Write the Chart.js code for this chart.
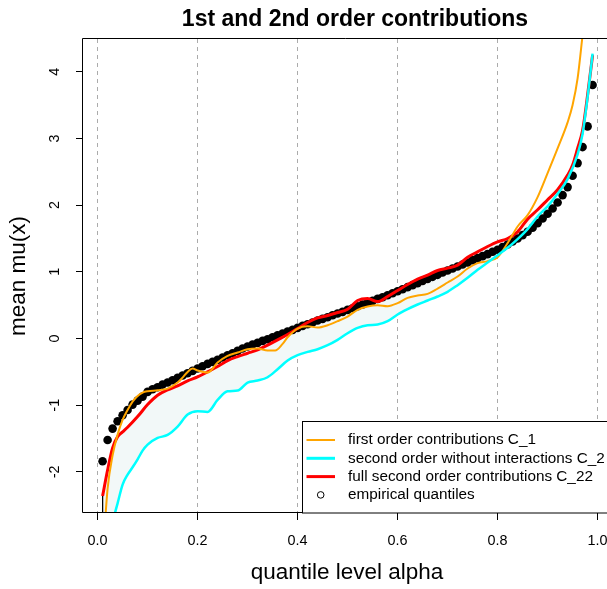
<!DOCTYPE html>
<html>
<head>
<meta charset="utf-8">
<script src="https://cdn.jsdelivr.net/npm/chart.js@4/dist/chart.umd.min.js"></script>
<style>
  body { margin: 0; background: #fff; }
  #wrap { width: 607px; height: 589px; overflow: hidden; }
</style>
</head>
<body>
<div id="wrap"><canvas id="contribChart" width="607" height="589"></canvas></div>
<script>
// empirical quantiles
const empAlpha = [0.01,0.02,0.03,0.04,0.05,0.06,0.07,0.08,0.09,0.10,0.11,0.12,0.13,0.14,0.15,0.16,0.17,0.18,0.19,0.20,
  0.21,0.22,0.23,0.24,0.25,0.26,0.27,0.28,0.29,0.30,0.31,0.32,0.33,0.34,0.35,0.36,0.37,0.38,0.39,0.40,
  0.41,0.42,0.43,0.44,0.45,0.46,0.47,0.48,0.49,0.50,0.51,0.52,0.53,0.54,0.55,0.56,0.57,0.58,0.59,0.60,
  0.61,0.62,0.63,0.64,0.65,0.66,0.67,0.68,0.69,0.70,0.71,0.72,0.73,0.74,0.75,0.76,0.77,0.78,0.79,0.80,
  0.81,0.82,0.83,0.84,0.85,0.86,0.87,0.88,0.89,0.90,0.91,0.92,0.93,0.94,0.95,0.96,0.97,0.98,0.99];
const empQuantile = [-1.84,-1.52,-1.35,-1.24,-1.15,-1.07,-0.99,-0.93,-0.87,-0.80,-0.76,-0.73,-0.69,-0.66,-0.625,-0.59,-0.555,-0.52,-0.485,-0.45,
  -0.415,-0.38,-0.35,-0.32,-0.285,-0.25,-0.22,-0.185,-0.15,-0.12,-0.09,-0.065,-0.035,-0.01,0.02,0.05,0.075,0.105,0.13,0.16,
  0.19,0.215,0.24,0.27,0.295,0.32,0.35,0.375,0.40,0.43,0.455,0.485,0.51,0.54,0.565,0.595,0.62,0.65,0.68,0.71,
  0.74,0.77,0.80,0.83,0.865,0.895,0.925,0.955,0.99,1.02,1.05,1.08,1.11,1.14,1.175,1.205,1.235,1.265,1.30,1.33,
  1.37,1.41,1.455,1.50,1.55,1.60,1.66,1.73,1.80,1.87,1.95,2.04,2.15,2.27,2.44,2.63,2.87,3.18,3.80];

// first order contributions C_1
const c1Alpha = [0.01,0.02,0.03,0.04,0.05,0.06,0.07,0.08,0.09,0.10,0.12,0.14,0.16,0.17,0.18,0.19,0.20,0.22,0.24,0.26,0.28,
  0.30,0.32,0.34,0.355,0.37,0.38,0.40,0.42,0.44,0.46,0.48,0.50,0.52,0.54,0.56,0.58,0.60,0.62,0.64,0.66,0.68,
  0.70,0.72,0.74,0.76,0.78,0.80,0.82,0.84,0.86,0.88,0.90,0.92,0.94,0.95,0.96,0.97];
const c1Mean = [-3.3,-2.25,-1.75,-1.44,-1.22,-1.07,-0.945,-0.86,-0.81,-0.79,-0.775,-0.75,-0.66,-0.585,-0.50,-0.45,-0.48,-0.51,-0.36,-0.26,-0.21,
  -0.16,-0.15,-0.18,-0.18,-0.08,0.02,0.15,0.185,0.165,0.20,0.26,0.33,0.43,0.48,0.50,0.485,0.53,0.61,0.645,0.67,0.75,
  0.84,0.93,1.05,1.13,1.16,1.22,1.43,1.68,1.85,2.12,2.48,2.85,3.24,3.50,3.90,4.55];

// second order without interactions C_2
const c2Alpha = [0.01,0.02,0.03,0.04,0.05,0.06,0.07,0.08,0.09,0.10,0.12,0.14,0.16,0.18,0.20,0.22,0.24,0.26,0.28,0.30,
  0.32,0.34,0.36,0.38,0.40,0.42,0.44,0.46,0.48,0.50,0.52,0.54,0.56,0.58,0.60,0.62,0.64,0.66,0.68,0.70,
  0.72,0.74,0.76,0.78,0.80,0.82,0.84,0.86,0.88,0.90,0.92,0.94,0.96,0.97,0.98,0.99];
const c2Mean = [-3.6,-3.1,-2.75,-2.47,-2.19,-2.04,-1.93,-1.81,-1.68,-1.59,-1.49,-1.445,-1.32,-1.14,-1.09,-1.10,-0.92,-0.79,-0.78,-0.66,
  -0.63,-0.58,-0.46,-0.33,-0.25,-0.20,-0.16,-0.10,-0.02,0.08,0.16,0.20,0.21,0.26,0.36,0.44,0.51,0.57,0.63,0.70,
  0.80,0.91,1.03,1.14,1.25,1.36,1.49,1.64,1.83,1.98,2.17,2.39,2.76,3.07,3.62,4.27];

// full second order contributions C_22
const c22Alpha = [0.01,0.02,0.03,0.04,0.05,0.06,0.08,0.10,0.12,0.14,0.16,0.18,0.20,0.22,0.24,0.26,0.28,0.30,0.32,0.34,
  0.36,0.38,0.40,0.42,0.44,0.46,0.48,0.50,0.52,0.54,0.56,0.58,0.60,0.62,0.64,0.66,0.68,0.70,0.72,0.74,
  0.76,0.78,0.80,0.82,0.84,0.86,0.88,0.90,0.92,0.94,0.95,0.96,0.97,0.98,0.99];
const c22Mean = [-2.36,-1.97,-1.64,-1.47,-1.40,-1.33,-1.17,-0.99,-0.85,-0.77,-0.71,-0.635,-0.575,-0.50,-0.42,-0.33,-0.27,-0.22,-0.17,-0.10,
  -0.02,0.06,0.15,0.24,0.31,0.345,0.39,0.44,0.57,0.60,0.555,0.63,0.72,0.81,0.89,0.95,1.02,1.055,1.10,1.22,
  1.30,1.38,1.45,1.50,1.60,1.79,1.93,2.08,2.23,2.45,2.60,2.85,3.12,3.65,4.25];

const seriesNames = ['first order contributions C_1', 'second order without interactions C_2',
  'full second order contributions C_22', 'empirical quantiles'];
const xTicks = [0, 0.2, 0.4, 0.6, 0.8, 1.0];
const yTicks = [-2, -1, 0, 1, 2, 3, 4];

const FONT = '"Liberation Sans", Arial, Helvetica, sans-serif';

function pts(xs, ys) {
  return xs.map((x, i) => ({ x: x, y: ys[i] }));
}

// R-style decorations: box, titles, tick labels, legend
const rDecor = {
  id: 'rDecor',
  afterDraw(chart) {
    const ctx = chart.ctx;
    const a = chart.chartArea;
    const xScale = chart.scales.x;
    const yScale = chart.scales.y;
    ctx.save();
    // plot box (right side falls outside the picture)
    ctx.strokeStyle = '#000';
    ctx.lineWidth = 1;
    const l = Math.round(a.left) - 0.5, t = Math.round(a.top) - 0.5, b = Math.round(a.bottom) - 0.5;
    ctx.beginPath();
    ctx.moveTo(chart.width + 5, t);
    ctx.lineTo(l, t);
    ctx.lineTo(l, b);
    ctx.lineTo(chart.width + 5, b);
    ctx.stroke();

    ctx.fillStyle = '#000';
    ctx.font = '14.4px ' + FONT;
    ctx.textAlign = 'center';
    ctx.textBaseline = 'middle';
    // x tick labels
    xTicks.forEach(v => {
      ctx.fillText(v.toFixed(1), xScale.getPixelForValue(v), 541);
    });
    // y tick labels (rotated like R)
    yTicks.forEach(v => {
      ctx.save();
      ctx.translate(55, yScale.getPixelForValue(v));
      ctx.rotate(-Math.PI / 2);
      ctx.fillText(String(v), 0, 0);
      ctx.restore();
    });

    // main title
    ctx.font = 'bold 23px ' + FONT;
    ctx.textBaseline = 'alphabetic';
    ctx.fillText('1st and 2nd order contributions', 355, 26);

    // axis titles
    ctx.font = '22.5px ' + FONT;
    ctx.fillText('quantile level alpha', 347, 579);
    ctx.save();
    ctx.translate(25, (a.top + a.bottom) / 2);
    ctx.rotate(-Math.PI / 2);
    ctx.fillText('mean mu(x)', 0, 0);
    ctx.restore();

    // legend
    const lx = 302.5, ly = 421.5;
    ctx.fillStyle = '#fff';
    ctx.fillRect(lx, ly, chart.width - lx + 10, a.bottom - ly);
    ctx.strokeStyle = '#000';
    ctx.strokeRect(lx, ly, chart.width - lx + 10, a.bottom - ly);
    const colors = ['orange', 'cyan', 'red'];
    const widths = [2, 3, 3];
    ctx.font = '15.3px ' + FONT;
    ctx.textAlign = 'left';
    ctx.textBaseline = 'middle';
    seriesNames.forEach((name, i) => {
      const ry = 440 + i * 18.3;
      if (i < 3) {
        ctx.strokeStyle = colors[i];
        ctx.lineWidth = widths[i];
        ctx.beginPath();
        ctx.moveTo(306.5, ry);
        ctx.lineTo(335, ry);
        ctx.stroke();
      } else {
        ctx.strokeStyle = '#000';
        ctx.lineWidth = 1;
        ctx.beginPath();
        ctx.arc(320.7, ry, 3.3, 0, Math.PI * 2);
        ctx.stroke();
      }
      ctx.fillStyle = '#000';
      ctx.fillText(name, 348, ry);
    });
    ctx.restore();
  }
};

const lineDefaults = { showLine: true, pointRadius: 0, fill: false, cubicInterpolationMode: 'monotone', clip: 0 };

new Chart(document.getElementById('contribChart'), {
  type: 'scatter',
  data: {
    datasets: [
      Object.assign({}, lineDefaults, {
        label: seriesNames[1],
        data: pts(c2Alpha, c2Mean),
        borderColor: 'cyan',
        borderWidth: 2.5,
        backgroundColor: '#f2f8f8',
        fill: { target: 2 },
        order: 0
      }),
      Object.assign({}, lineDefaults, {
        label: seriesNames[0],
        data: pts(c1Alpha, c1Mean),
        borderColor: 'orange',
        borderWidth: 2,
        order: 1
      }),
      Object.assign({}, lineDefaults, {
        label: seriesNames[2],
        data: pts(c22Alpha, c22Mean),
        borderColor: 'red',
        borderWidth: 3,
        order: 2
      }),
      {
        label: seriesNames[3],
        data: pts(empAlpha, empQuantile),
        showLine: false,
        pointRadius: 4.3,
        pointBorderWidth: 0,
        pointBackgroundColor: '#000',
        pointBorderColor: '#000',
        clip: 0,
        order: 3
      },
      Object.assign({}, lineDefaults, {
        label: 'polygon edge',
        data: [{ x: c22Alpha[0], y: c22Mean[0] }, { x: c2Alpha[0], y: c2Mean[0] }],
        borderColor: '#000',
        borderWidth: 1,
        cubicInterpolationMode: 'default',
        order: 4
      })
    ]
  },
  options: {
    responsive: false,
    animation: false,
    layout: { autoPadding: false, padding: { top: 39, left: 0, right: 0, bottom: 0 } },
    plugins: {
      legend: { display: false },
      tooltip: { enabled: false },
      filler: { drawTime: 'beforeDatasetsDraw' }
    },
    scales: {
      x: {
        type: 'linear',
        min: -0.0292,
        max: 1.0188,
        afterFit: function(scale) { scale.height = 76; },
        afterBuildTicks: function(scale) { scale.ticks = xTicks.map(v => ({ value: v })); },
        ticks: { display: false, includeBounds: false },
        grid: {
          color: '#ababab',
          lineWidth: 1,
          drawTicks: true,
          tickLength: 7,
          tickColor: '#000',
          tickBorderDash: []
        },
        border: { display: false, dash: [4, 4] }
      },
      y: {
        type: 'linear',
        min: -2.615,
        max: 4.49,
        afterFit: function(scale) { scale.width = 83; },
        afterBuildTicks: function(scale) { scale.ticks = yTicks.map(v => ({ value: v })); },
        ticks: { display: false },
        grid: {
          drawOnChartArea: false,
          drawTicks: true,
          tickLength: 7,
          tickColor: '#000'
        },
        border: { display: false }
      }
    }
  },
  plugins: [rDecor]
});
</script>
</body>
</html>
